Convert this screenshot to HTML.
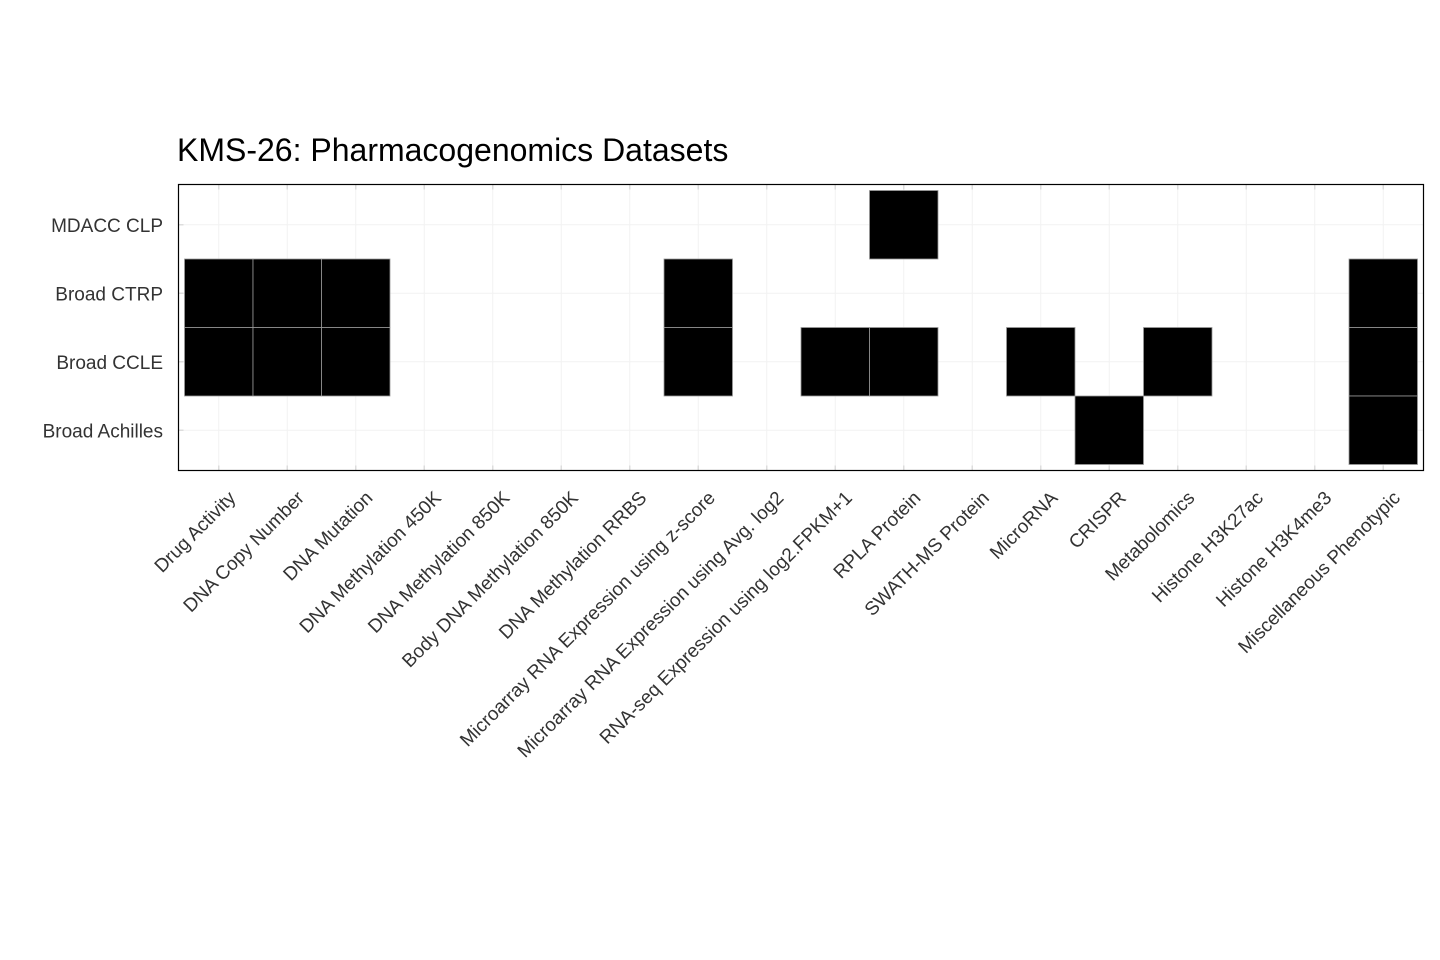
<!DOCTYPE html>
<html><head><meta charset="utf-8"><style>
body{margin:0;background:#fff;}
svg{display:block;font-family:"Liberation Sans",Arial,sans-serif;}
</style></head><body>
<svg id="chart" width="1440" height="960">
<text x="177" y="161" font-size="32" fill="#000">KMS-26: Pharmacogenomics Datasets</text>
<g id="grid"></g><g id="tiles"></g><g id="axes"></g>
<rect x="178.5" y="184.5" width="1245" height="286" fill="none" stroke="#000" stroke-width="1.2"/>
</svg>
<script>
const categories=["Drug Activity","DNA Copy Number","DNA Mutation","DNA Methylation 450K","DNA Methylation 850K","Body DNA Methylation 850K","DNA Methylation RRBS","Microarray RNA Expression using z-score","Microarray RNA Expression using Avg. log2","RNA-seq Expression using log2.FPKM+1","RPLA Protein","SWATH-MS Protein","MicroRNA","CRISPR","Metabolomics","Histone H3K27ac","Histone H3K4me3","Miscellaneous Phenotypic"];
const rows=["MDACC CLP","Broad CTRP","Broad CCLE","Broad Achilles"];
const presentMDACC=[10];
const presentCTRP=[0,1,2,7,17];
const presentCCLE=[0,1,2,7,9,10,12,14,17];
const presentAchilles=[13,17];
const presence=[presentMDACC,presentCTRP,presentCCLE,presentAchilles];

const NS="http://www.w3.org/2000/svg";
const x0=178.5,x1=1423.5,y0=184.5,y1=470.5;
const bw=(x1-x0-12)/categories.length;
const bh=(y1-y0-12)/rows.length;
function xs(i){return x0+6+bw*(i+0.5);}
function ys(j){return y0+6+bh*(j+0.5);}
function mk(tag,attrs,parent){const e=document.createElementNS(NS,tag);for(const k in attrs)e.setAttribute(k,attrs[k]);parent.appendChild(e);return e;}
const grid=document.getElementById('grid'),tiles=document.getElementById('tiles'),axes=document.getElementById('axes');
categories.forEach((c,i)=>{
  const x=xs(i);
  const g=mk('line',{x1:x,x2:x,y1:y0,y2:y1,stroke:'#f2f2f2','stroke-width':1},grid);
  
  
  [[y0,y0+5],[y1-5,y1]].forEach(p=>{const t=mk('line',{x1:x,x2:x,y1:p[0],y2:p[1],stroke:'#ddd','stroke-width':1.5},axes);
    
    });
  const lab=mk('text',{transform:`translate(${x+18},${499}) rotate(-45)`,'text-anchor':'end','font-size':19,fill:'#333'},axes);
  lab.textContent=c;
  
  
});
rows.forEach((r,j)=>{
  const y=ys(j);
  const g=mk('line',{x1:x0,x2:x1,y1:y,y2:y,stroke:'#f2f2f2','stroke-width':1},grid);
  
  
  const t=mk('line',{x1:x0,x2:x0+5,y1:y,y2:y,stroke:'#ddd','stroke-width':1.5},axes);
  
  
  const lab=mk('text',{x:163,y:y+7,'text-anchor':'end','font-size':19,fill:'#333'},axes);
  lab.textContent=r;
  
  
  presence[j].forEach(i=>{
    const rc=mk('rect',{x:xs(i)-bw/2,y:y-bh/2,width:bw,height:bh,fill:'#000',stroke:'#999','stroke-width':0.8},tiles);
    
    
  });
});
</script>
</body></html>
